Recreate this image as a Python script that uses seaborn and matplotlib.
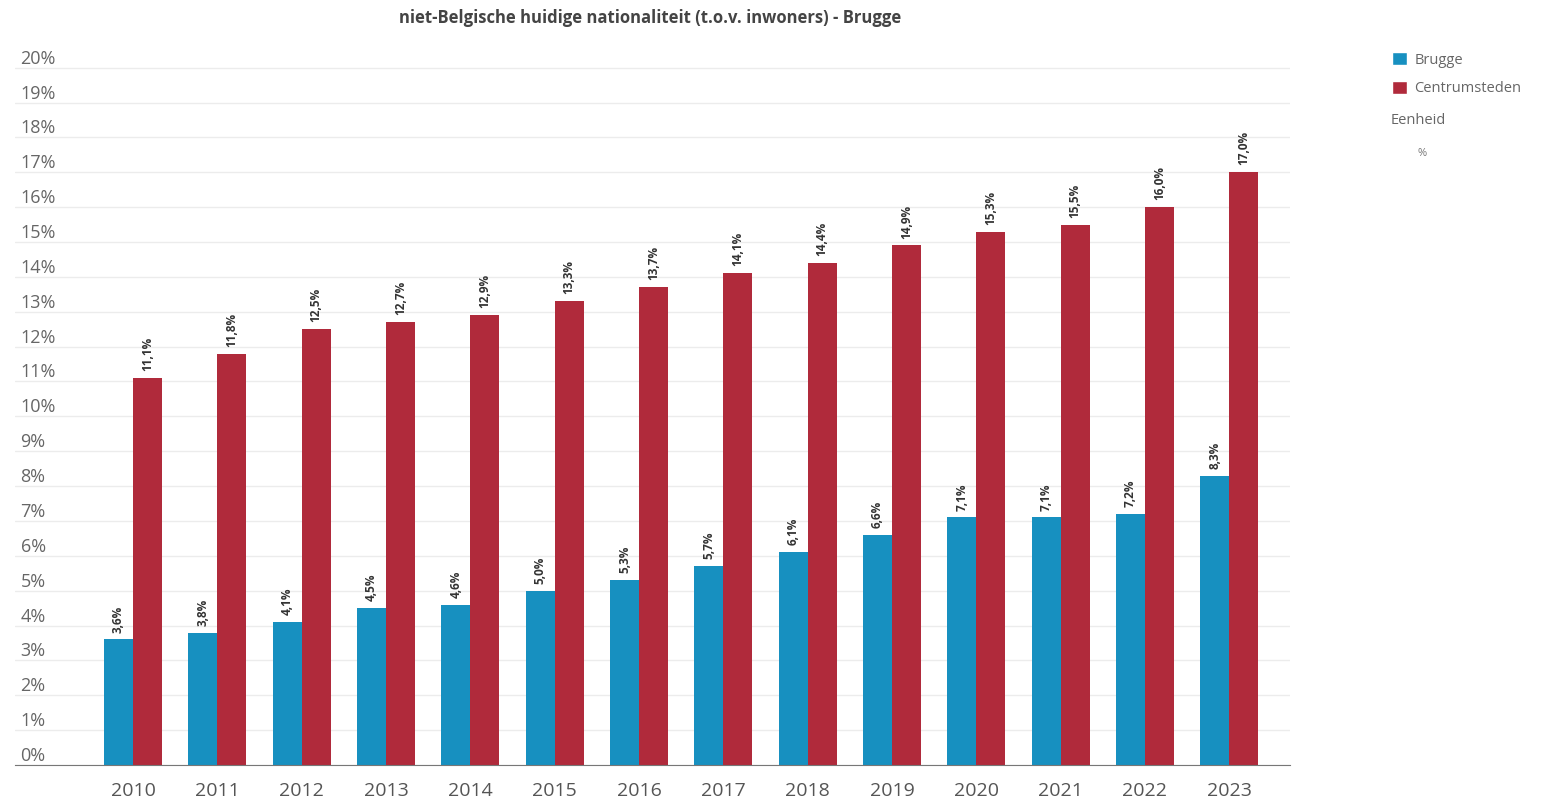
import pandas as pd
import matplotlib
matplotlib.use("Agg")
import matplotlib.pyplot as plt
from matplotlib.patches import Patch
import seaborn as sns

YEARS = ['2010', '2011', '2012', '2013', '2014', '2015', '2016',
         '2017', '2018', '2019', '2020', '2021', '2022', '2023']
BRUGGE = [3.6, 3.8, 4.1, 4.5, 4.6, 5.0, 5.3, 5.7, 6.1, 6.6, 7.1, 7.1, 7.2, 8.3]
CENTRUMSTEDEN = [11.1, 11.8, 12.5, 12.7, 12.9, 13.3, 13.7, 14.1, 14.4, 14.9,
                 15.3, 15.5, 16.0, 17.0]
SERIES = ['Brugge', 'Centrumsteden']
COLORS = ['#1790c0', '#b02a3b']
Y_TICKS = list(range(0, 21))
TITLE = "niet-Belgische huidige nationaliteit (t.o.v. inwoners) - Brugge"

sns.set_style("white")
plt.rcParams['font.family'] = ['Open Sans', 'DejaVu Sans']

df = pd.DataFrame({
    'Jaar': YEARS * 2,
    'Waarde': BRUGGE + CENTRUMSTEDEN,
    'Reeks': [SERIES[0]] * len(YEARS) + [SERIES[1]] * len(YEARS),
})

fig = plt.figure(figsize=(15.46, 8.02), dpi=100)
ax = fig.add_axes([15 / 1546, 1 - 765 / 802, (1290 - 15) / 1546, (765 - 45) / 802])

sns.barplot(data=df, x='Jaar', y='Waarde', hue='Reeks', palette=COLORS,
            width=0.69, saturation=1, linewidth=0, ax=ax, legend=False)

# labels above the bars, comma decimals
for cont, vals in zip(ax.containers, [BRUGGE, CENTRUMSTEDEN]):
    ax.bar_label(cont, labels=[f"{v:.1f}%".replace('.', ',') for v in vals],
                 rotation=90, padding=5, fontsize=8.5, fontweight='bold',
                 color='#333333')

ax.set_xlim(-1.4, 13.72)
ax.set_ylim(0, 20.65)
ax.set_yticks(Y_TICKS)
ax.set_yticklabels([f"{t}%" for t in Y_TICKS])
ax.set_xlabel("")
ax.set_ylabel("")

ax.yaxis.grid(True, color='#ececec', linewidth=1)
ax.set_axisbelow(True)
for s in ['left', 'right', 'top']:
    ax.spines[s].set_visible(False)
ax.spines['bottom'].set_color('#777777')

ax.tick_params(axis='y', length=0, pad=-4, labelsize=13, labelcolor='#666666')
for t in ax.get_yticklabels():
    t.set_ha('left')
    t.set_va('bottom')
ax.tick_params(axis='x', length=0, pad=12, labelsize=14, labelcolor='#555555')

fig.text(650 / 1546, 1 - 18 / 802, TITLE, ha='center', va='center',
         fontsize=12, fontweight='bold', color='#444444')

# legend on the right
handles = [Patch(facecolor=c, label=s) for s, c in zip(SERIES, COLORS)]
fig.legend(handles=handles, loc='upper left', bbox_to_anchor=(1385 / 1546, 1 - 45 / 802),
           frameon=False, fontsize=10.5, labelcolor='#666666', handlelength=1.0,
           handleheight=1.0, handletextpad=0.5, labelspacing=0.9, borderpad=0)
fig.text(1391 / 1546, 1 - 121 / 802, "Eenheid", ha='left', va='center',
         fontsize=10.5, color='#666666')
fig.text(1418 / 1546, 1 - 153 / 802, "%", ha='left', va='center',
         fontsize=8, color='#777777')

fig.savefig("out.png", dpi=100)
